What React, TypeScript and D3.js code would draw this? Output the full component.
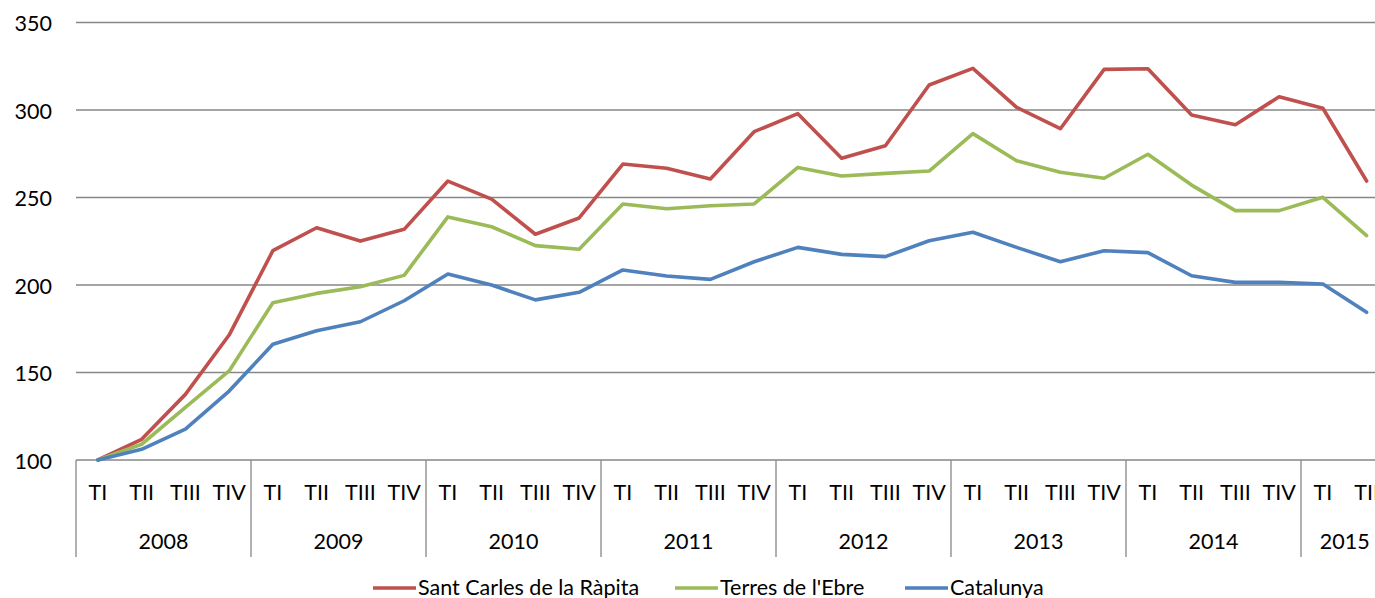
import React from 'react'
import * as d3 from 'd3'

// quarters 2008 TI .. 2015 TII
const years = ['2008', '2009', '2010', '2011', '2012', '2013', '2014', '2015']
const quarterNames = ['TI', 'TII', 'TIII', 'TIV']
const quartersPerYear = [4, 4, 4, 4, 4, 4, 4, 2]

const santCarles = [100, 111.8, 137.5, 171.4, 219.6, 232.7, 225.1, 231.8, 259.4, 249.1, 229, 238.3, 269.1, 266.7, 260.6, 287.6, 297.9, 272.4, 279.6, 314.3, 323.8, 301.5, 289.3, 323.2, 323.6, 297.1, 291.6, 307.6, 301, 259.4]
const terresEbre = [100, 109, 130.1, 150.9, 189.9, 195.2, 199, 205.5, 238.9, 233.3, 222.5, 220.4, 246.3, 243.6, 245.3, 246.3, 267.2, 262.3, 263.8, 265.1, 286.5, 271, 264.4, 261, 274.7, 257.1, 242.5, 242.5, 250.1, 228.2]
const catalunya = [100, 106.1, 117.7, 139.4, 166.1, 173.9, 179, 191, 206.3, 200, 191.5, 195.8, 208.6, 205.1, 203.2, 213.3, 221.5, 217.5, 216.2, 225.3, 230.1, 221.5, 213.3, 219.6, 218.5, 205.3, 201.5, 201.5, 200.6, 184.4]

const yTicks = [100, 150, 200, 250, 300, 350]

const seriesList = [
  { name: 'Sant Carles de la Ràpita', values: santCarles, color: '#C0504D' },
  { name: "Terres de l'Ebre", values: terresEbre, color: '#9BBB59' },
  { name: 'Catalunya', values: catalunya, color: '#4F81BD' },
]

const W = 1375
const H = 598
const font = 'Lato, "Open Sans", sans-serif'

export default function App() {
  // build quarter list from year list
  const quarters: { year: string; q: string }[] = []
  years.forEach((y, i) => {
    for (let k = 0; k < quartersPerYear[i]; k++) quarters.push({ year: y, q: quarterNames[k] })
  })
  const n = quarters.length

  const left = 76
  const band = 43.75
  const x = d3.scaleBand<number>()
    .domain(d3.range(n))
    .range([left, left + band * n])
  const y = d3.scaleLinear().domain([100, 350]).range([460, 22.5])

  const line = d3.line<number>()
    .x((d, i) => (x(i) as number) + x.bandwidth() / 2)
    .y((d) => y(d))

  // year blocks
  let start = 0
  const blocks = years.map((yr, i) => {
    const b = { year: yr, x0: x(start) as number, x1: (x(start) as number) + band * quartersPerYear[i] }
    start += quartersPerYear[i]
    return b
  })

  const legendX = [373, 675, 905]

  return (
    <svg width={W} height={H} style={{ position: 'absolute', left: 0, top: 0, overflow: 'hidden', background: '#fff' }} fontFamily={font}>
      {/* gridlines */}
      {yTicks.map((t) => (
        <line key={t} x1={left} x2={x.range()[1]} y1={y(t)} y2={y(t)} stroke="#878787" strokeWidth={1.3} />
      ))}
      {yTicks.map((t) => (
        <text key={'l' + t} x={52} y={y(t) + 8.5} textAnchor="end" fontSize={21.5} fill="#000">{t}</text>
      ))}
      {/* category axis */}
      {blocks.map((b) => (
        <line key={'s' + b.year} x1={b.x0} x2={b.x0} y1={460} y2={557} stroke="#878787" strokeWidth={1.3} />
      ))}
      {quarters.map((q, i) => (
        <text key={'q' + i} x={(x(i) as number) + x.bandwidth() / 2} y={500} textAnchor="middle" fontSize={21.5} fill="#000">{q.q}</text>
      ))}
      {blocks.map((b) => (
        <text key={'y' + b.year} x={(b.x0 + b.x1) / 2} y={549} textAnchor="middle" fontSize={21.5} fill="#000">{b.year}</text>
      ))}
      {/* lines */}
      {seriesList.map((s) => (
        <path key={s.name} d={line(s.values) || ''} fill="none" stroke={s.color} strokeWidth={3.6} strokeLinejoin="round" strokeLinecap="round" />
      ))}
      {/* legend */}
      {seriesList.map((s, i) => (
        <g key={'lg' + s.name}>
          <line x1={legendX[i]} x2={legendX[i] + 43} y1={588} y2={588} stroke={s.color} strokeWidth={3.6} />
          <text x={legendX[i] + 45} y={595} fontSize={21.5} fill="#000">{s.name}</text>
        </g>
      ))}
    </svg>
  )
}
